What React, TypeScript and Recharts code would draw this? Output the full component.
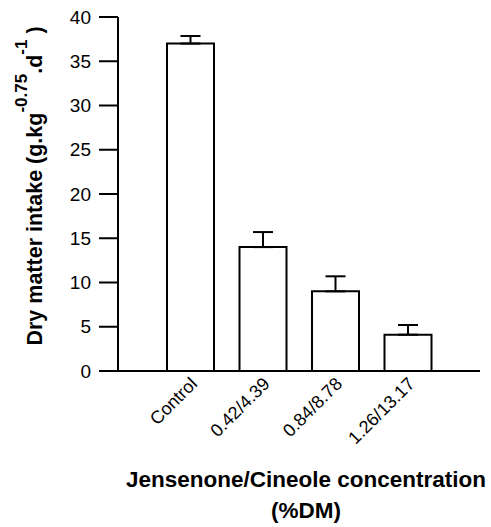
import { BarChart, Bar, XAxis, YAxis, ErrorBar } from "recharts";

const categories = ["Control", "0.42/4.39", "0.84/8.78", "1.26/13.17"];
const intake = [37, 14, 9, 4.1];
const sem = [0.85, 1.7, 1.7, 1.1];
const yTicks = [0, 5, 10, 15, 20, 25, 30, 35, 40];

const FONT = "'Liberation Sans', Arial, Helvetica, sans-serif";

const data = categories.map((name, i) => ({ name, intake: intake[i], err: [0, sem[i]] }));

// category labels run up and to the right, ending just past the bar centre
function XTick({ x, y, payload }: any) {
  return (
    <text transform={`translate(${x + 8},${y + 14}) rotate(-45)`} textAnchor="end"
      fontSize={18} fill="#000" fontFamily={FONT}>
      {payload.value}
    </text>
  );
}

function YTitle() {
  return (
    <text transform="translate(42,186) rotate(-90)" textAnchor="middle" fontSize={21.5}
      fontWeight="bold" fill="#000" fontFamily={FONT}>
      Dry matter intake (g.kg
      <tspan dy={-15} fontSize={17}>-0.75</tspan>
      <tspan dy={15}>.d</tspan>
      <tspan dy={-15} fontSize={17}>-1</tspan>
      <tspan dy={15}> )</tspan>
    </text>
  );
}

function XTitle() {
  return (
    <g fontSize={22.5} fontWeight="bold" fill="#000" fontFamily={FONT}>
      <text x={306} y={487} textAnchor="middle">Jensenone/Cineole concentration</text>
      <text x={306} y={518} textAnchor="middle">(%DM)</text>
    </g>
  );
}

export default function App() {
  return (
    <div style={{ width: 491, height: 527, background: "#fff" }}>
      <style>{`body{margin:0}`}</style>
      <BarChart width={491} height={527} data={data} margin={{ top: 17, right: 11, left: 0, bottom: 0 }}>
        <XAxis dataKey="name" height={156} padding={{ left: 36, right: 36 }}
          axisLine={{ stroke: "#000", strokeWidth: 2 }} tickLine={false} tickSize={0} tickMargin={0}
          tick={<XTick />} interval={0} label={{ content: () => <XTitle /> }} />
        <YAxis width={118} domain={[0, 40]} ticks={yTicks} interval={0}
          axisLine={{ stroke: "#000", strokeWidth: 2 }} tickLine={{ stroke: "#000", strokeWidth: 2 }}
          tickSize={19} tickMargin={8}
          tick={{ fontSize: 19, fill: "#000", fontFamily: FONT }}
          label={{ content: () => <YTitle /> }} />
        <Bar dataKey="intake" fill="#fff" stroke="#000" strokeWidth={2} barSize={47} isAnimationActive={false}>
          <ErrorBar dataKey="err" direction="y" width={10} stroke="#000" strokeWidth={2} isAnimationActive={false} />
        </Bar>
      </BarChart>
    </div>
  );
}
